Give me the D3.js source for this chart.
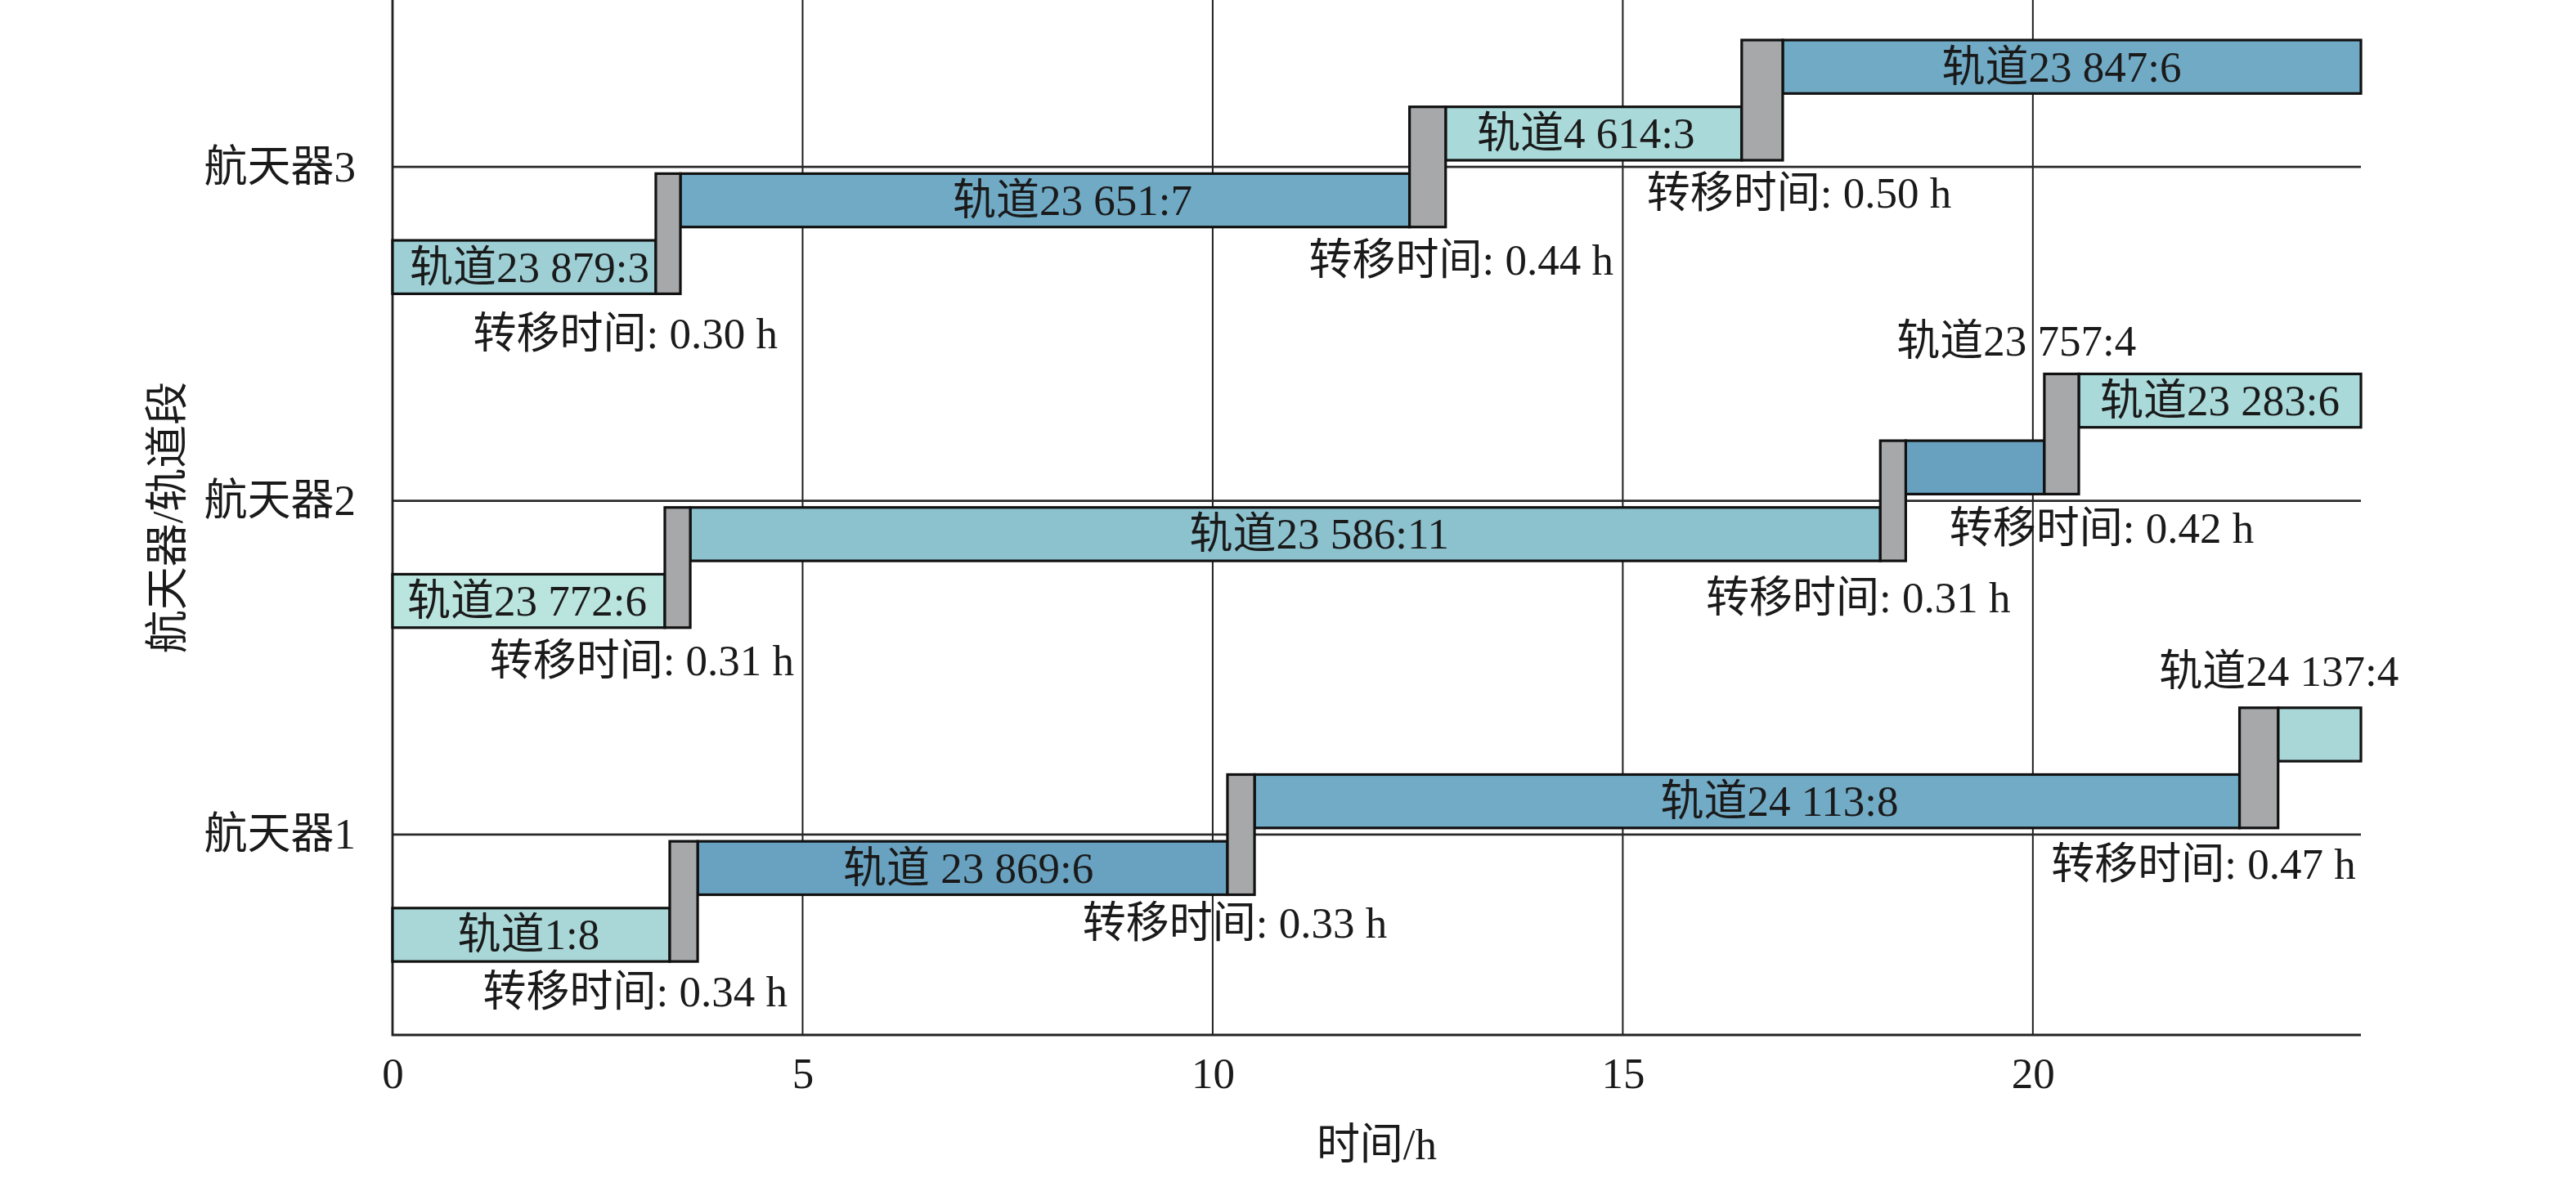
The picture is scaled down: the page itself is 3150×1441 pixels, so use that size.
<!DOCTYPE html>
<html lang="zh">
<head>
<meta charset="UTF-8">
<title>航天器轨道段</title>
<style>
    body { margin: 0; background: #fff; }
    text { font-family: "Liberation Serif", "Noto Sans CJK SC", serif; fill: #1a1a1a; }
    .axis path, .axis line { display: none; }
</style>
</head>
<body>
<svg></svg>
<script src="https://d3js.org/d3.v7.min.js"></script>
<script>
// ---- data ----
const vehicles = ["航天器1", "航天器2", "航天器3"];
const xTicks = [0, 5, 10, 15, 20];

// orbit segments per vehicle (end time of each segment, h)
const orbits1 = ["轨道1:8", "轨道 23 869:6", "轨道24 113:8", "轨道24 137:4"];
const ends1 = [3.38, 10.18, 22.52, 24];
const transfer1 = [0.34, 0.33, 0.47];

const orbits2 = ["轨道23 772:6", "轨道23 586:11", "轨道23 757:4", "轨道23 283:6"];
const ends2 = [3.32, 18.14, 20.14, 24];
const transfer2 = [0.31, 0.31, 0.42];

const orbits3 = ["轨道23 879:3", "轨道23 651:7", "轨道4 614:3", "轨道23 847:6"];
const ends3 = [3.21, 12.40, 16.45, 24];
const transfer3 = [0.30, 0.44, 0.50];

// ---- layout / style ----
const width = 3150, height = 1441;
const margin = {left: 480, right: 263, top: 0, bottom: 175};
const fontSize = 53;

const colors1 = ["#a9d7d8", "#68a2c0", "#72abc6", "#a9d7d8"];
const colors2 = ["#bae4de", "#8cc1ce", "#67a1bf", "#aad9d9"];
const colors3 = ["#9dcfd5", "#70aac5", "#aad9d9", "#70aac5"];
const grey = "#a7a8aa";

// label placement (x centre in h, y offset from the row in row units; 0 -> inside bar)
const labelX = [[1.66, 7.02, 16.91, 23.0], [1.64, 11.3, 19.8, 22.28], [1.67, 8.29, 14.55, 20.35]];
const labelDy = [[0, 0, 0, 0.49], [0, 0, 0.48, 0], [0, 0, 0, 0]];
const transferLabelX = [[2.96, 10.27, 22.08], [3.04, 17.87, 20.84], [2.84, 13.03, 17.15]];
const transferLabelDy = [[-0.47, -0.265, -0.088], [-0.478, -0.29, -0.083], [-0.5, -0.278, -0.077]];

const levelOffset = [-0.3, -0.1, 0.1, 0.3];
const barH = 0.16;

const svg = d3.select("svg").attr("width", width).attr("height", height);

const x = d3.scaleLinear().domain([0, 24]).range([margin.left, width - margin.right]);
const y = d3.scaleLinear().domain([0.4, 3.5]).range([height - margin.bottom, margin.top]);

// grid lines
svg.append("g").selectAll("line").data(xTicks.slice(1)).join("line")
    .attr("x1", d => x(d)).attr("x2", d => x(d))
    .attr("y1", y(3.5)).attr("y2", y(0.4))
    .attr("stroke", "#1e1e1e").attr("stroke-width", 2);

svg.append("g").selectAll("line").data([1, 2, 3]).join("line")
    .attr("x1", x(0)).attr("x2", x(24))
    .attr("y1", d => y(d)).attr("y2", d => y(d))
    .attr("stroke", "#2a2a2a").attr("stroke-width", 2.8);

// axis frame (left + bottom)
svg.append("path")
    .attr("d", `M${x(0)},${y(3.5)}V${y(0.4)}H${x(24)}`)
    .attr("fill", "none").attr("stroke", "#222").attr("stroke-width", 2.8);

// axes
svg.append("g").attr("class", "axis")
    .attr("transform", `translate(0,${y(0.4)})`)
    .call(d3.axisBottom(x).tickValues(xTicks).tickSize(0).tickPadding(27))
    .selectAll("text").style("font-size", fontSize + "px")
    .style("font-family", "Liberation Serif, Noto Sans CJK SC, serif").attr("fill", "#1a1a1a");

svg.append("g").attr("class", "axis")
    .attr("transform", `translate(${x(0)},0)`)
    .call(d3.axisLeft(y).tickValues([1, 2, 3]).tickFormat(d => vehicles[d - 1]).tickSize(0).tickPadding(45))
    .selectAll("text").style("font-size", fontSize + "px")
    .style("font-family", "Liberation Serif, Noto Sans CJK SC, serif").attr("fill", "#1a1a1a");

// axis titles
svg.append("text")
    .attr("x", (x(0) + x(24)) / 2).attr("y", 1400)
    .attr("text-anchor", "middle").attr("dominant-baseline", "central")
    .style("font-size", fontSize + "px").text("时间/h");

svg.append("text")
    .attr("transform", `translate(205,${(y(3.5) + y(0.4)) / 2}) rotate(-90)`)
    .attr("text-anchor", "middle").attr("dominant-baseline", "central")
    .style("font-size", fontSize + "px").text("航天器/轨道段");

// build segments
const allOrbits = [orbits1, orbits2, orbits3];
const allEnds = [ends1, ends2, ends3];
const allTransfers = [transfer1, transfer2, transfer3];
const allColors = [colors1, colors2, colors3];

const segs = [], transfers = [];
allOrbits.forEach((names, vi) => {
    const row = vi + 1;
    let start = 0;
    names.forEach((name, k) => {
        const end = allEnds[vi][k];
        segs.push({row, k, name, start, end, color: allColors[vi][k],
            lx: labelX[vi][k], ldy: labelDy[vi][k]});
        if (k < names.length - 1) {
            const t = allTransfers[vi][k];
            transfers.push({row, k, t, start: end, end: end + t,
                lx: transferLabelX[vi][k], ldy: transferLabelDy[vi][k]});
            start = end + t;
        }
    });
});

const g = svg.append("g");

g.selectAll("rect.seg").data(segs).join("rect")
    .attr("class", "seg")
    .attr("x", d => x(d.start))
    .attr("width", d => x(d.end) - x(d.start))
    .attr("y", d => y(d.row + levelOffset[d.k] + barH / 2))
    .attr("height", d => y(0) - y(barH))
    .attr("fill", d => d.color)
    .attr("stroke", "#111").attr("stroke-width", 3.2);

// transfer bars span from top of upper segment to bottom of lower segment
g.selectAll("rect.tr").data(transfers).join("rect")
    .attr("class", "tr")
    .attr("x", d => x(d.start))
    .attr("width", d => x(d.end) - x(d.start))
    .attr("y", d => y(d.row + levelOffset[d.k + 1] + barH / 2))
    .attr("height", d => y(d.row + levelOffset[d.k] - barH / 2) - y(d.row + levelOffset[d.k + 1] + barH / 2))
    .attr("fill", grey)
    .attr("stroke", "#111").attr("stroke-width", 3.2);

// segment labels
g.selectAll("text.seglabel").data(segs).join("text")
    .attr("class", "seglabel")
    .attr("x", d => x(d.lx))
    .attr("y", d => d.ldy ? y(d.row + d.ldy) : y(d.row + levelOffset[d.k]))
    .attr("text-anchor", "middle").attr("dominant-baseline", "central")
    .style("font-size", fontSize + "px")
    .text(d => d.name);

// transfer labels
g.selectAll("text.trlabel").data(transfers).join("text")
    .attr("class", "trlabel")
    .attr("x", d => x(d.lx))
    .attr("y", d => y(d.row + d.ldy))
    .attr("text-anchor", "middle").attr("dominant-baseline", "central")
    .style("font-size", fontSize + "px")
    .text(d => `转移时间: ${d.t.toFixed(2)} h`);
</script>
</body>
</html>
